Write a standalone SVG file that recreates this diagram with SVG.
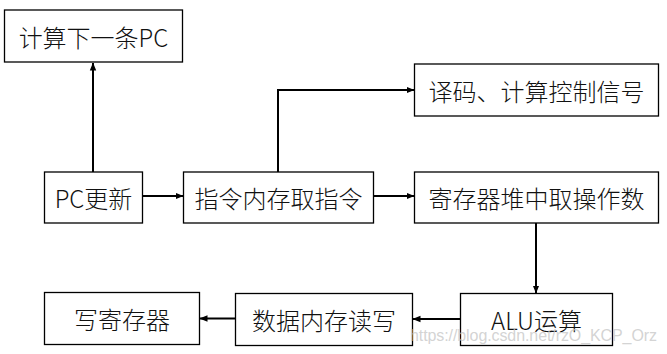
<svg xmlns="http://www.w3.org/2000/svg" width="667" height="354" viewBox="0 0 667 354">
<defs>
<style>
.box{fill:#fff;stroke:#000;stroke-width:1.3}
.lbl{font-family:"Noto Sans CJK SC","Liberation Sans",sans-serif;font-size:24px;fill:#111;text-anchor:middle;dominant-baseline:central;font-weight:300}
.con{fill:none;stroke:#000;stroke-width:2}
.wm{font-family:"Liberation Sans",Arial,sans-serif;font-size:16px;fill:#c8c8c8;fill-opacity:0.8}
</style>
<marker id="ah" viewBox="0 0 8 8" refX="7.5" refY="4" markerWidth="8" markerHeight="8" markerUnits="userSpaceOnUse" orient="auto">
<path d="M0,0.8 L8,4 L0,7.2 Z" fill="#000"/>
</marker>
</defs>
<rect width="667" height="354" fill="#fff"/>
<g id="connectors">
<path class="con" d="M93,172 V63" marker-end="url(#ah)"/>
<path class="con" d="M143,196 H183" marker-end="url(#ah)"/>
<path class="con" d="M278,172 V90 H414" marker-end="url(#ah)"/>
<path class="con" d="M373,196 H414" marker-end="url(#ah)"/>
<path class="con" d="M536,223 V293" marker-end="url(#ah)"/>
<path class="con" d="M460,319 H413" marker-end="url(#ah)"/>
<path class="con" d="M235,318.5 H200" marker-end="url(#ah)"/>
</g>
<g id="n1"><rect class="box" x="4.5" y="10" width="178" height="52"/><text class="lbl" x="93.5" y="36">计算下一条PC</text></g>
<g id="n2"><rect class="box" x="44.5" y="172" width="98" height="51"/><text class="lbl" x="93.5" y="197.5">PC更新</text></g>
<g id="n3"><rect class="box" x="183.5" y="172" width="190" height="51"/><text class="lbl" x="278.5" y="197.5">指令内存取指令</text></g>
<g id="n4"><rect class="box" x="414.5" y="64" width="244" height="52"/><text class="lbl" x="536.5" y="90">译码、计算控制信号</text></g>
<g id="n5"><rect class="box" x="414.5" y="172" width="244" height="51"/><text class="lbl" x="536.5" y="197.5">寄存器堆中取操作数</text></g>
<g id="n6"><rect class="box" x="460.5" y="293.5" width="152" height="52"/><text class="lbl" x="536.5" y="319.5">ALU运算</text></g>
<g id="n7"><rect class="box" x="235.5" y="293.5" width="177" height="52"/><text class="lbl" x="324" y="319.5">数据内存读写</text></g>
<g id="n8"><rect class="box" x="44.5" y="292.5" width="155" height="52"/><text class="lbl" x="122" y="318.5">写寄存器</text></g>
<text class="wm" x="410" y="341" textLength="247">https://blog.csdn.net/rzO_KCP_Orz</text>
</svg>
